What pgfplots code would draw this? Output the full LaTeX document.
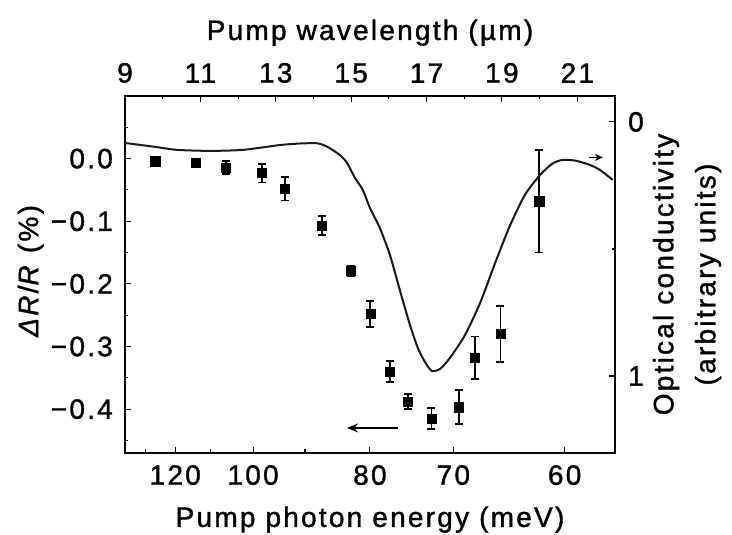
\documentclass[border=0pt]{standalone}
\usepackage{fontspec}
\setmainfont{Liberation Sans}[LetterSpace=8, FakeBold=1.3]
\usepackage{pgfplots}
\pgfplotsset{compat=1.18}
\usetikzlibrary{arrows.meta}
\begin{document}
\begin{tikzpicture}[font=\fontsize{28}{34}\selectfont]
\pgfplotsset{
  common/.style={
    scale only axis, width=490pt, height=357pt,
    xmin=9, xmax=22,
    axis line style={line width=1.3pt},
    tick align=inside,
    major tick length=6pt, minor tick length=3.5pt,
    every tick/.style={line width=1.1pt, black},
    every minor tick/.style={line width=1.1pt, black},
    tick label style={inner sep=0pt},
    /pgf/number format/assume math mode=true,
  }
}
\begin{axis}[common,
  ymin=-0.47, ymax=0.10,
  xtick pos=lower, ytick pos=lower,
  xticklabel pos=lower, yticklabel pos=lower,
  xtick={10.332,12.398,15.498,17.712,20.664},
  xticklabels={120,100,80,70,60},
  minor xtick={9.537,11.271,13.776},
  ytick={-0.4,-0.3,-0.2,-0.1,0},
  yticklabels={−0.4,−0.3,−0.2,−0.1,0.0},
  minor ytick={-0.45,-0.35,-0.25,-0.15,-0.05,0.05},
  xticklabel shift=12pt, yticklabel shift=12pt,
  xlabel={Pump photon energy (meV)},
  ylabel={\textit{ΔR}/\textit{R} (\%)},
  xlabel style={at={(axis description cs:0.5,-0.207)}, anchor=base, inner sep=0pt},
  ylabel style={at={(axis description cs:-0.192,0.51)}, anchor=center, rotate=0, inner sep=0pt},
]
\addplot[only marks, mark=square*, mark size=4.6pt, black,
  error bars/.cd, y dir=both, y explicit,
  error bar style={line width=1.8pt, black},
  error mark options={rotate=90, mark size=4pt, line width=1.8pt, black}]
  table[x=x, y=y, y error=e] {
x y e
9.80 -0.004 0.006
10.88 -0.006 0.005
11.68 -0.014 0.010
12.63 -0.023 0.015
13.24 -0.048 0.019
14.22 -0.107 0.015
14.99 -0.179 0.008
15.51 -0.248 0.021
16.03 -0.340 0.017
16.51 -0.388 0.012
17.13 -0.415 0.017
17.86 -0.397 0.027
18.28 -0.318 0.034
18.96 -0.280 0.045
19.99 -0.068 0.082
};
\draw[line width=1.6pt, -{Stealth[length=11pt,width=9pt]}] (axis cs:16.24,-0.430) -- (axis cs:14.89,-0.430);
\draw[line width=1.6pt, -{Stealth[length=8pt,width=7pt]}] (axis cs:21.30,0.002) -- (axis cs:21.68,0.002);
\end{axis}
\begin{axis}[common,
  ymin=-0.102, ymax=1.303, y dir=reverse,
  xtick pos=upper, ytick pos=upper,
  xticklabel pos=upper, yticklabel pos=upper,
  xtick={9,11,13,15,17,19,21},
  minor xtick={10,12,14,16,18,20,22},
  ytick={0,1}, minor ytick={0.5},
  xticklabel shift=13pt, yticklabel shift=13pt,
  xlabel={Pump wavelength (µm)},
  ylabel={Optical conductivity\\(arbitrary units)},
  xlabel style={at={(axis description cs:0.5,1.157)}, anchor=base, inner sep=0pt},
  ylabel style={at={(axis description cs:1.147,0.5)}, anchor=center, rotate=0, align=center, inner sep=0pt, font=\fontsize{28}{42}\selectfont},
]
\addplot[line width=2pt, black!90, smooth, tension=0.4] table {
9.00 0.083
9.74 0.097
10.38 0.110
11.25 0.114
12.13 0.110
13.11 0.091
13.64 0.085
14.09 0.084
14.36 0.097
14.70 0.130
14.89 0.161
15.10 0.220
15.31 0.268
15.50 0.339
15.76 0.417
16.03 0.524
16.29 0.661
16.56 0.799
16.77 0.890
16.96 0.945
17.14 0.980
17.36 0.972
17.62 0.929
18.02 0.839
18.42 0.713
18.81 0.559
19.21 0.409
19.61 0.287
20.01 0.209
20.33 0.165
20.59 0.150
20.94 0.152
21.33 0.169
21.60 0.189
21.94 0.228
};
\end{axis}
\pgfresetboundingbox
\path (current axis.south west) ++(-125pt,-82pt) rectangle ++(732pt,535pt);
\end{tikzpicture}
\end{document}
